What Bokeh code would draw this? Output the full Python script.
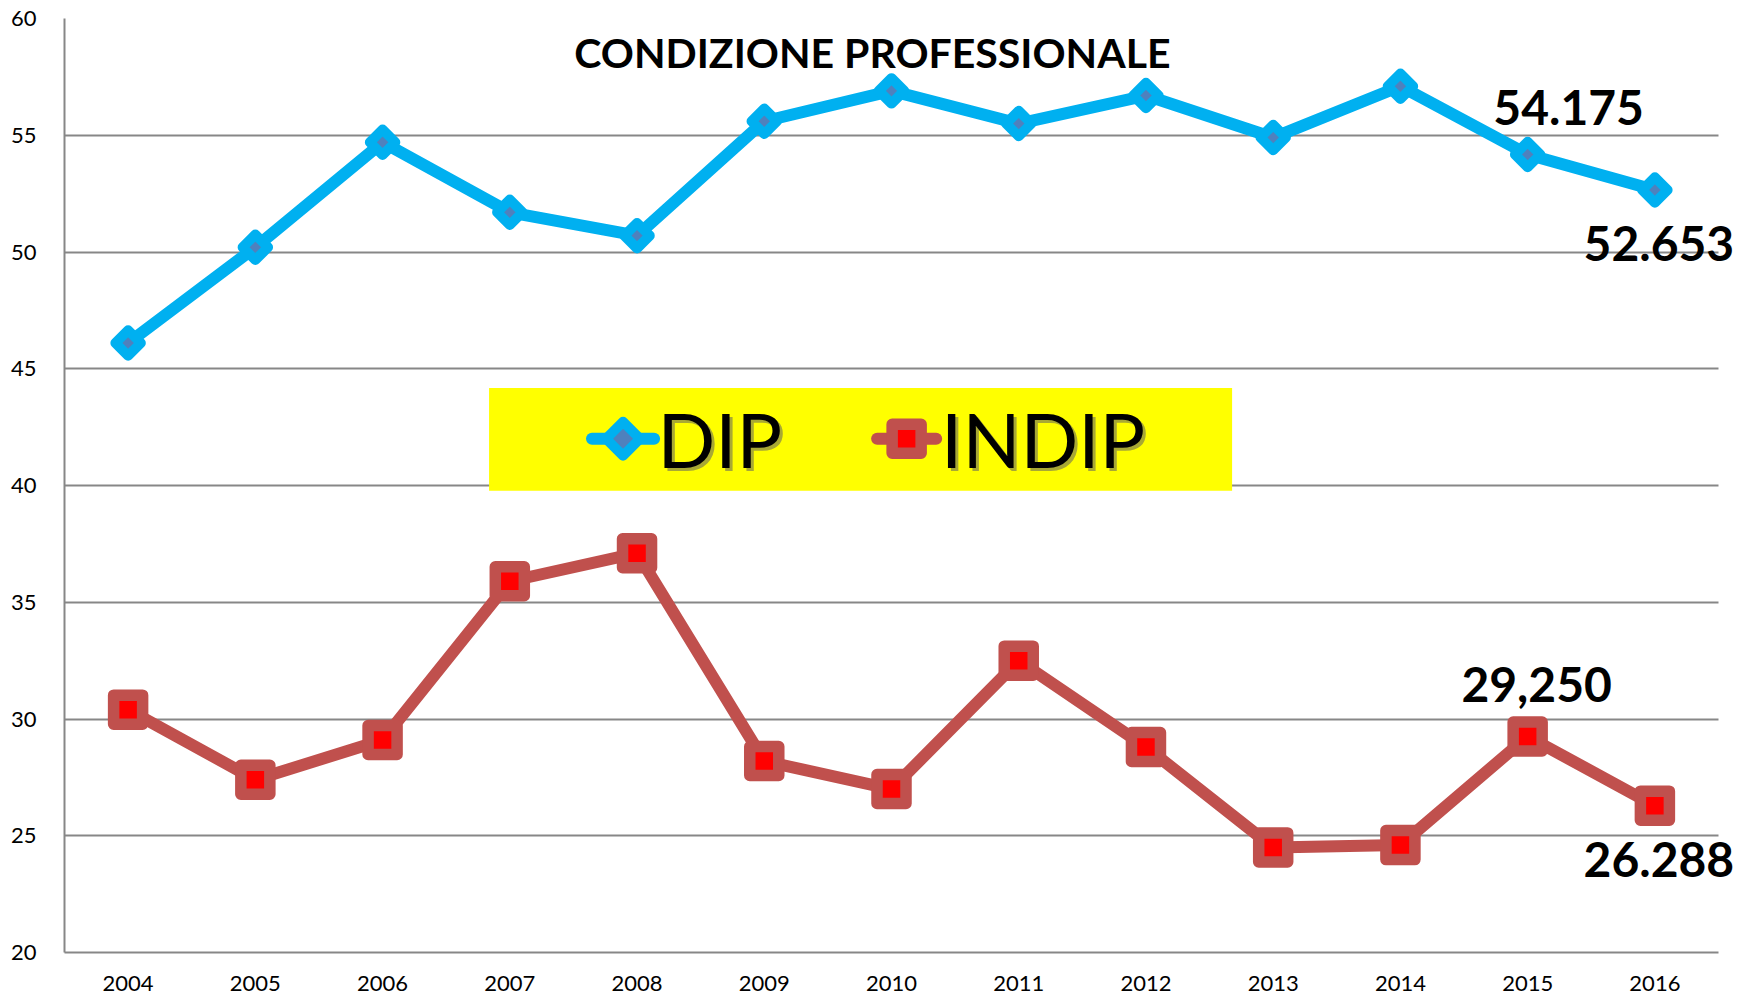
import math
from bokeh.plotting import figure
from bokeh.models import (ColumnDataSource, Range1d, Label, BoxAnnotation, FixedTicker)
from bokeh.embed import file_html
from bokeh.resources import INLINE

# ---------------- data ----------------
years = ["2004", "2005", "2006", "2007", "2008", "2009", "2010",
         "2011", "2012", "2013", "2014", "2015", "2016"]
dip = [46.1, 50.2, 54.7, 51.7, 50.7, 55.6, 56.9, 55.5, 56.7, 54.9, 57.1, 54.175, 52.653]
indip = [30.4, 27.4, 29.1, 35.9, 37.1, 28.2, 27.0, 32.5, 28.8, 24.5, 24.6, 29.25, 26.288]
y_ticks = [20, 25, 30, 35, 40, 45, 50, 55, 60]
title_text = "CONDIZIONE PROFESSIONALE"
series_names = ["DIP", "INDIP"]

dip_label_years = ["2015", "2016"]
dip_label_texts = ["54.175", "52.653"]
indip_label_years = ["2015", "2016"]
indip_label_texts = ["29,250", "26.288"]

# ---------------- styles ----------------
DIP_COLOR = "#00B0F0"
DIP_FILL = "#4F81BD"
INDIP_COLOR = "#C0504D"
INDIP_FILL = "#FF0000"
GRID = "#878787"
FONT = "Lato"

# category slots: each year occupies one unit, centred at i + 0.5
n = len(years)
xpos = [i + 0.5 for i in range(n)]
# frame is widened a little on the right so that the end labels are not clipped,
# while grid/axis stop at the last category slot (px: 64 .. 1718 for n slots)
FRAME_L, FRAME_R_CAT, FRAME_R = 64, 1718, 1746
x_end = n * (FRAME_R - FRAME_L) / (FRAME_R_CAT - FRAME_L)

p = figure(width=1750, height=998,
           x_range=Range1d(0, x_end),
           y_range=Range1d(20, 60),
           output_backend="svg", toolbar_location=None,
           min_border_left=FRAME_L, min_border_right=1750 - FRAME_R,
           min_border_top=18, min_border_bottom=46)
p.outline_line_color = None
p.background_fill_color = "white"
p.border_fill_color = "white"

# axes
p.yaxis.ticker = FixedTicker(ticks=y_ticks)
p.xaxis.ticker = FixedTicker(ticks=xpos)
p.xaxis.major_label_overrides = {x: yr for x, yr in zip(xpos, years)}
p.xaxis.bounds = (0, n)
for ax in (p.xaxis[0], p.yaxis[0]):
    ax.axis_line_color = GRID
    ax.axis_line_width = 2
    ax.major_tick_line_color = None
    ax.minor_tick_line_color = None
    ax.major_tick_out = 0
    ax.major_tick_in = 0
    ax.major_label_text_font = FONT
    ax.major_label_text_font_size = "22px"
    ax.major_label_text_color = "black"
p.yaxis.major_label_standoff = 28
p.xaxis.major_label_standoff = 23

p.xgrid.grid_line_color = None
try:
    p.ygrid.cross_bounds = (0, n)
    p.ygrid.grid_line_color = GRID
    p.ygrid.grid_line_width = 2
except Exception:
    p.ygrid.grid_line_color = None
    p.segment(x0=[0] * len(y_ticks), y0=y_ticks, x1=[n] * len(y_ticks), y1=y_ticks,
              line_color=GRID, line_width=2, level="underlay")

# ---------------- series ----------------
src = ColumnDataSource(dict(x=xpos, dip=dip, indip=indip))

p.line("x", "dip", source=src, line_color=DIP_COLOR, line_width=12, line_join="round")
p.scatter("x", "dip", source=src, marker="square", angle=math.pi / 4, size=18,
          fill_color=DIP_FILL, line_color=DIP_COLOR, line_width=10, line_join="round")

p.line("x", "indip", source=src, line_color=INDIP_COLOR, line_width=12, line_join="round")
p.scatter("x", "indip", source=src, marker="square", size=29,
          fill_color=INDIP_FILL, line_color=INDIP_COLOR, line_width=11.5, line_join="round")

# ---------------- data labels ----------------
label_specs = (
    [(yr, dip[years.index(yr)], t) for yr, t in zip(dip_label_years, dip_label_texts)] +
    [(yr, indip[years.index(yr)], t) for yr, t in zip(indip_label_years, indip_label_texts)]
)
label_offsets = [(41, 47), (4, -53), (9, 52), (4, -54)]
for (yr, val, t), (xo, yo) in zip(label_specs, label_offsets):
    p.add_layout(Label(x=xpos[years.index(yr)], y=val, text=t,
                       x_offset=xo, y_offset=yo,
                       text_align="center", text_baseline="middle",
                       text_font=FONT, text_font_style="bold",
                       text_font_size="48px", text_color="black"))

# ---------------- title ----------------
p.add_layout(Label(x=6.35, y=58.55, text=title_text, text_align="center",
                   text_baseline="middle", text_font=FONT, text_font_style="bold",
                   text_font_size="41px", text_color="black"))

# ---------------- legend (yellow box) ----------------
p.add_layout(BoxAnnotation(left=3.337, right=9.177, bottom=39.77, top=44.18,
                           fill_color="#FFFF00", fill_alpha=1, line_color=None))
leg_y = 42.0
leg_seg_x0 = [4.146, 6.387]
leg_seg_x1 = [4.634, 6.851]
leg_mark_x = [4.39, 6.619]
leg_text_x = [4.66, 6.89]

p.segment(x0=[leg_seg_x0[0]], y0=[leg_y], x1=[leg_seg_x1[0]], y1=[leg_y],
          line_color=DIP_COLOR, line_width=12, line_cap="round", level="overlay")
p.scatter(x=[leg_mark_x[0]], y=[leg_y], marker="square", angle=math.pi / 4, size=24,
          fill_color=DIP_FILL, line_color=DIP_COLOR, line_width=10, line_join="round",
          level="overlay")
p.segment(x0=[leg_seg_x0[1]], y0=[leg_y], x1=[leg_seg_x1[1]], y1=[leg_y],
          line_color=INDIP_COLOR, line_width=12, line_cap="round", level="overlay")
p.scatter(x=[leg_mark_x[1]], y=[leg_y], marker="square", size=29,
          fill_color=INDIP_FILL, line_color=INDIP_COLOR, line_width=11.5, line_join="round",
          level="overlay")

for name, tx in zip(series_names, leg_text_x):
    p.add_layout(Label(x=tx, y=leg_y, text=name, x_offset=3, y_offset=-3,
                       text_align="left", text_baseline="middle", text_font=FONT,
                       text_font_size="76px", text_color="#606060", text_alpha=0.55,
                       level="overlay"))
    p.add_layout(Label(x=tx, y=leg_y, text=name, text_align="left",
                       text_baseline="middle", text_font=FONT,
                       text_font_size="76px", text_color="black", level="overlay"))

open("out.html", "w").write(file_html(p, INLINE))
